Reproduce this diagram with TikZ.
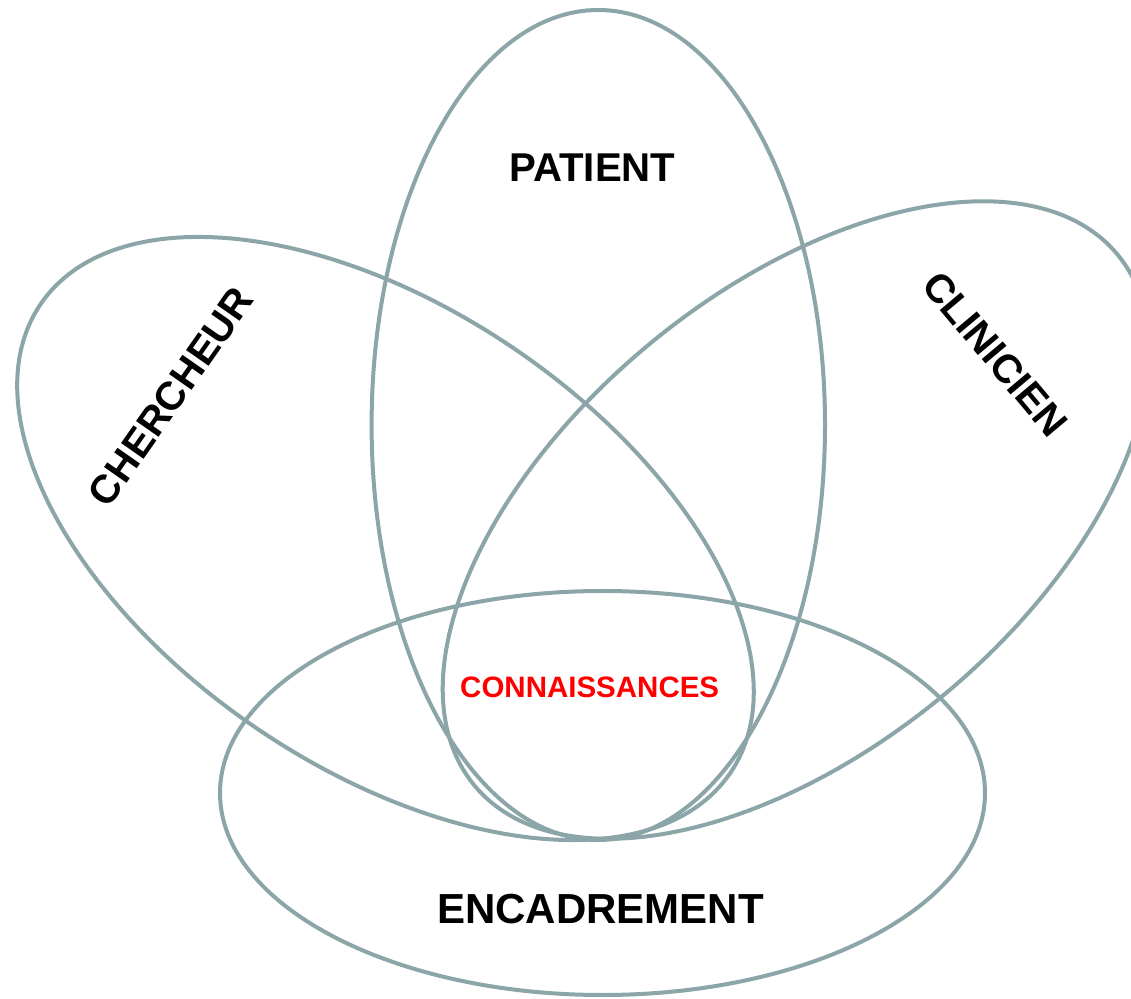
\documentclass[tikz,border=0pt]{standalone}
\usepackage{fontspec}
\setmainfont{Liberation Sans}
\definecolor{ringc}{RGB}{140,165,168}
\definecolor{redc}{RGB}{255,0,0}
\begin{document}
\begin{tikzpicture}[x=1pt,y=1pt,
  ring/.style={draw=ringc, line width=4pt},
  lab/.style={font=\fontsize{#1}{#1}\selectfont\bfseries, text=black, inner sep=0pt},
  lab/.default=40]
\useasboundingbox (0,0) rectangle (1131,998);
% ellipses
\coordinate (cPat) at (598.3,573);
\coordinate (cEnc) at (602.5,205);
\coordinate (cChe) at (385.5,459.5);
\coordinate (cCli) at (796,478);
\draw[ring] (cPat) ellipse [x radius=226.7, y radius=415];
\draw[ring] (cEnc) ellipse [x radius=382.5, y radius=202];
\draw[ring, rotate around={-34.2:(cChe)}] (cChe) ellipse [x radius=417, y radius=229.4];
\draw[ring, rotate around={39.5:(cCli)}] (cCli) ellipse [x radius=417, y radius=229];
% labels
\node[lab=40.2] (patient) at (592.5,830.5) {PATIENT};
\node[lab=40, rotate=55] (chercheur) at (171,601.5) {CHERCHEUR};
\node[lab=40, rotate=-50] (clinicien) at (995,644) {CLINICIEN};
\node[lab=42] (encadrement) at (600.5,89) {ENCADREMENT};
\node[lab=29.5, text=redc] (connaissances) at (589.7,310.5) {CONNAISSANCES};
\end{tikzpicture}
\end{document}
